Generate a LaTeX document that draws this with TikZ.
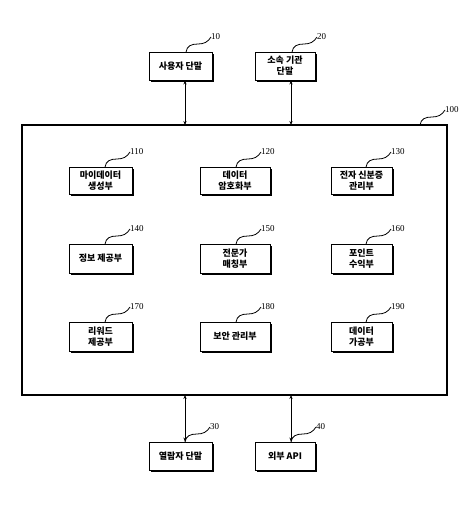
\documentclass[tikz,border=0pt]{standalone}
\usepackage{fontspec}
\setmainfont{Liberation Serif}
\newfontfamily\kr{Noto Sans CJK KR}
\usetikzlibrary{arrows.meta}
\begin{document}
\begin{tikzpicture}[x=1pt,y=-1pt,
  blk/.style={draw,line width=0.9pt,fill=white,inner sep=0pt,align=center,font=\kr\bfseries\fontsize{9}{11}\selectfont},
  shd/.style={fill=black},
  lead/.style={line width=0.8pt},
  num/.style={font=\fontsize{9}{9}\selectfont,inner sep=0pt,anchor=west},
  conn/.style={line width=0.8pt,{Stealth[length=4pt,width=3.2pt]}-{Stealth[length=4pt,width=3.2pt]}}]
\useasboundingbox (0,0) rectangle (469,511);
\newcommand{\mybox}[6]{% name, x1,y1,x2,y2,text
  \fill[shd] (#2+2.2,#3+2.2) rectangle (#4+2.2,#5+2.2);
  \node[blk,minimum width=#4-#2,minimum height=#5-#3] (#1) at ({(#2+#4)/2},{(#3+#5)/2}) {#6};}
\newcommand{\mylead}[4]{% x,y (box top), label text, name
  \draw[lead] (#1,#2) .. controls (#1+1,#2-6) and (#1+5,#2-8) .. (#1+12,#2-8) .. controls (#1+18,#2-8) and (#1+22,#2-10) .. (#1+25,#2-15);
  \node[num] (#4) at (#1+25,#2-15.5) {#3};}
% outer box
\draw[line width=1.7pt] (22,125) rectangle (447,395);
\mylead{420}{125}{100}{n100}
% top boxes
\mybox{u10}{149}{52}{212}{80}{사용자 단말}
\mybox{u20}{255}{52}{315}{80}{소속 기관\\단말}
\mylead{186}{52}{10}{n10}
\mylead{292}{52}{20}{n20}
% bottom boxes
\mybox{u30}{149}{442}{212}{470}{열람자 단말}
\mybox{u40}{255}{442}{315}{470}{외부 API}
\mylead{185}{442}{30}{n30}
\mylead{291}{442}{40}{n40}
% connectors
\coordinate (t1) at (185,125);
\coordinate (t2) at (291,125);
\coordinate (b1) at (185,395);
\coordinate (b2) at (291,395);
\draw[conn] (u10.south -| t1) -- (t1);
\draw[conn] (u20.south -| t2) -- (t2);
\draw[conn] (b1) -- (u30.north -| b1);
\draw[conn] (b2) -- (u40.north -| b2);
% inner boxes
\mybox{m110}{69}{167}{132}{194}{마이데이터\\생성부}
\mybox{m120}{200}{167}{270}{194}{데이터\\암호화부}
\mybox{m130}{331}{167}{392}{194}{전자 신분증\\관리부}
\mybox{m140}{69}{244}{132}{273}{정보 제공부}
\mybox{m150}{200}{244}{270}{273}{전문가\\매칭부}
\mybox{m160}{331}{244}{392}{273}{포인트\\수익부}
\mybox{m170}{69}{322}{132}{351}{리워드\\제공부}
\mybox{m180}{200}{322}{270}{351}{보안 관리부}
\mybox{m190}{331}{322}{392}{351}{데이터\\가공부}
\mylead{105}{167}{110}{n110}
\mylead{236}{167}{120}{n120}
\mylead{366}{167}{130}{n130}
\mylead{105}{244}{140}{n140}
\mylead{236}{244}{150}{n150}
\mylead{366}{244}{160}{n160}
\mylead{105}{322}{170}{n170}
\mylead{236}{322}{180}{n180}
\mylead{366}{322}{190}{n190}
\end{tikzpicture}
\end{document}
